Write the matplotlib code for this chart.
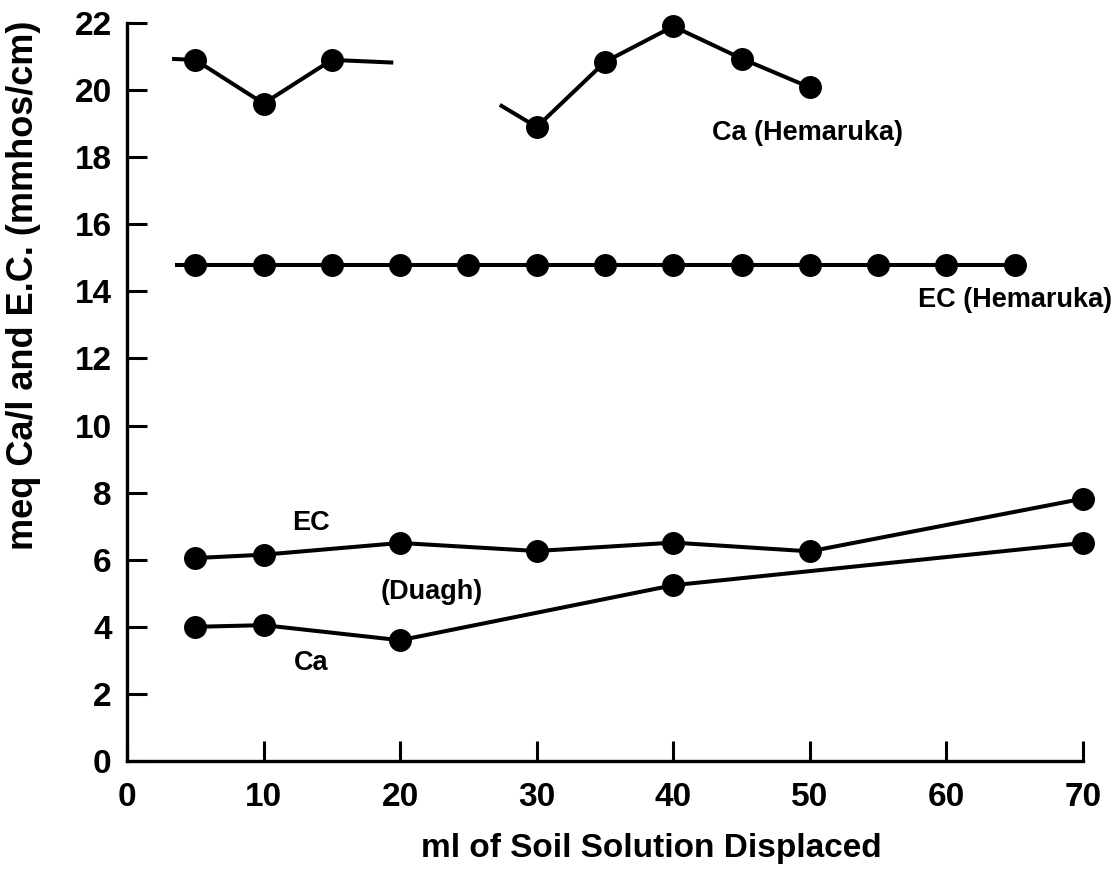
import matplotlib
matplotlib.use("Agg")
import matplotlib.pyplot as plt

# ---------------- data ----------------
# Ca (Hemaruka), two broken line pieces; first/last points of a piece may be unmarked
ca_hem_x1 = [3.3, 5, 10, 15, 19.5]
ca_hem_y1 = [20.93, 20.9, 19.6, 20.9, 20.82]
ca_hem_mark1 = [1, 2, 3]
ca_hem_x2 = [27.3, 30, 35, 40, 45, 50]
ca_hem_y2 = [19.56, 18.9, 20.84, 21.9, 20.94, 20.08]
ca_hem_mark2 = [1, 2, 3, 4, 5]

# EC (Hemaruka), line starts a little before first marker
ec_hem_x = [3.5, 5, 10, 15, 20, 25, 30, 35, 40, 45, 50, 55, 60, 65]
ec_hem_y = [14.8, 14.8, 14.8, 14.8, 14.8, 14.8, 14.8, 14.8, 14.8, 14.8, 14.8, 14.8, 14.8, 14.8]
ec_hem_mark = list(range(1, 14))

# Duagh
ec_dua_x = [5, 10, 20, 30, 40, 50, 70]
ec_dua_y = [6.05, 6.15, 6.5, 6.26, 6.51, 6.25, 7.82]
ca_dua_x = [5, 10, 20, 40, 70]
ca_dua_y = [4.0, 4.05, 3.6, 5.24, 6.5]

x_ticks = [0, 10, 20, 30, 40, 50, 60, 70]
y_ticks = [0, 2, 4, 6, 8, 10, 12, 14, 16, 18, 20, 22]

x_label = "ml of Soil Solution Displaced"
y_label = "meq Ca/l and E.C. (mmhos/cm)"

# ---------------- figure ----------------
plt.rcParams['font.family'] = ['Liberation Sans', 'DejaVu Sans']
W, H = 1116, 888
fig = plt.figure(figsize=(W / 100, H / 100), dpi=100)
ax = fig.add_axes([127 / W, 1 - 761 / H, (1083 - 127) / W, (761 - 23) / H])

lw = 2.9
ms = 15.5
style = dict(color='black', lw=lw, marker='o', ms=ms, mfc='black', mec='black',
             solid_capstyle='butt', clip_on=False)

ax.plot(ca_hem_x1, ca_hem_y1, markevery=ca_hem_mark1, **style)
ax.plot(ca_hem_x2, ca_hem_y2, markevery=ca_hem_mark2, **style)
ax.plot(ec_hem_x, ec_hem_y, markevery=ec_hem_mark, **style)
ax.plot(ec_dua_x, ec_dua_y, **style)
ax.plot(ca_dua_x, ca_dua_y, **style)

ax.set_xlim(0, 70)
ax.set_ylim(0, 22)
ax.set_xticks(x_ticks)
ax.set_yticks(y_ticks)
ax.set_xticklabels([str(v) for v in x_ticks], fontsize=24, fontweight='bold')
ax.set_yticklabels([str(v) for v in y_ticks], fontsize=24, fontweight='bold')
for s in ['top', 'right']:
    ax.spines[s].set_visible(False)
for s in ['left', 'bottom']:
    ax.spines[s].set_linewidth(2.4)
ax.tick_params(axis='both', direction='in', length=14.5, width=2.2, color='black')
ax.tick_params(axis='x', pad=15)
ax.tick_params(axis='y', pad=11)

# annotations
tk = dict(fontsize=19.5, fontweight='bold', ha='center', va='center')
ax.text(49.8, 18.72, "Ca (Hemaruka)", **tk)
ax.text(65.0, 13.74, "EC (Hemaruka)", clip_on=False, **tk)
ax.text(13.5, 7.09, "EC", **tk)
ax.text(22.3, 5.04, "(Duagh)", **tk)
ax.text(13.5, 2.92, "Ca", **tk)

fig.text(651 / W, 1 - 848 / H, x_label, fontsize=24, fontweight='bold',
         ha='center', va='center')
fig.text(24 / W, 1 - 550 / H, y_label, fontsize=26, fontweight='bold',
         rotation=90, ha='center', va='bottom')

fig.savefig("out.png", dpi=100)
